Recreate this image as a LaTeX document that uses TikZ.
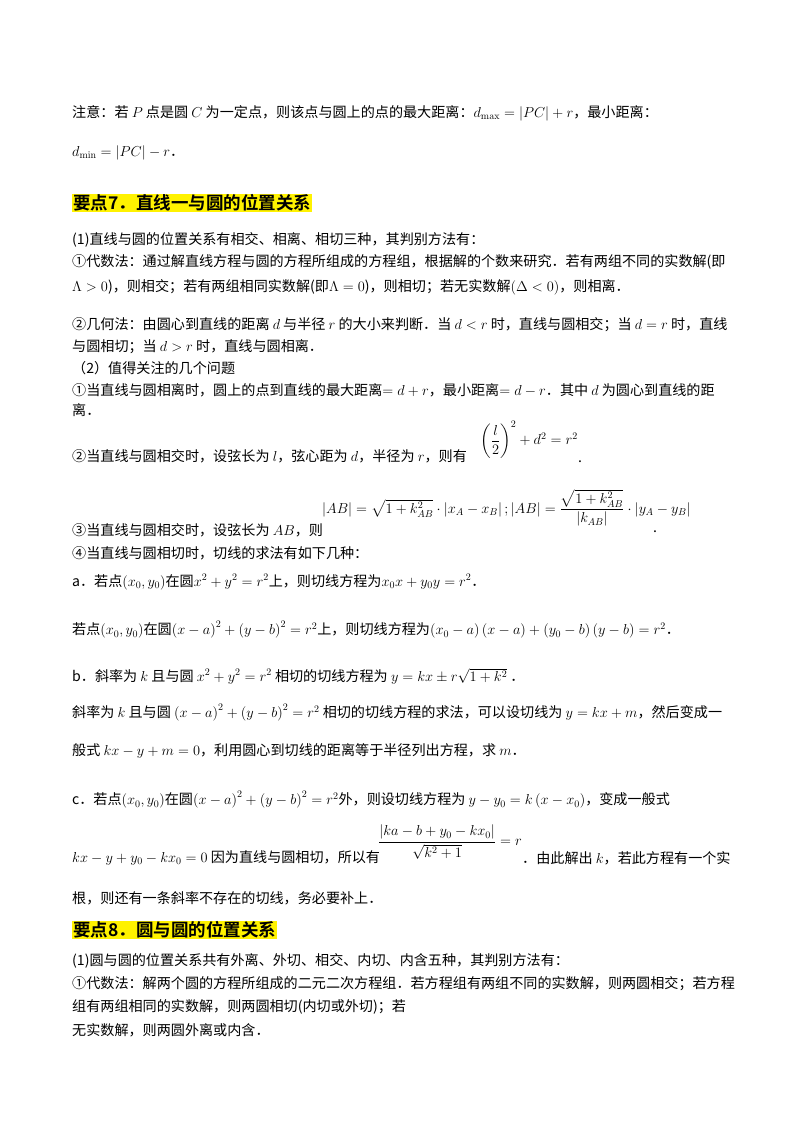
\documentclass[tikz,border=0pt]{standalone}
\usepackage[no-math]{fontspec}
\usepackage{amsmath}
\setmainfont{Noto Sans CJK SC}
\newfontfamily\hd{Noto Sans CJK SC Bold}
\begin{document}
\begin{tikzpicture}[x=1pt,y=-1pt,
  ln/.style={anchor=west,inner sep=0pt,font=\fontsize{14.1}{16}\selectfont},
  hdbox/.style={anchor=west,inner sep=1pt,fill=yellow,font=\fontsize{17.5}{20}\hd}]
\useasboundingbox (0,0) rectangle (800,1132);
\node[ln] (l1) at (72,113) {注意：若 $P$ 点是圆 $C$ 为一定点，则该点与圆上的点的最大距离：$d_{\max}=\left|PC\right|+r$，最小距离：};
\node[ln] (l2) at (72,153) {$d_{\min}=\left|PC\right|-r$．};
\node[hdbox] (h7) at (72,203) {要点7．直线一与圆的位置关系};
\node[ln] (l3) at (72,240) {(1)直线与圆的位置关系有相交、相离、相切三种，其判别方法有：};
\node[ln] (l4) at (72,262) {①代数法：通过解直线方程与圆的方程所组成的方程组，根据解的个数来研究．若有两组不同的实数解(即};
\node[ln] (l5) at (72,287) {$\Lambda>0$)，则相交；若有两组相同实数解(即$\Lambda=0$)，则相切；若无实数解$\left(\Delta<0\right)$，则相离．};
\node[ln] (l6) at (72,325) {②几何法：由圆心到直线的距离 $d$ 与半径 $r$ 的大小来判断．当 $d<r$ 时，直线与圆相交；当 $d=r$ 时，直线};
\node[ln] (l7) at (72,347) {与圆相切；当 $d>r$ 时，直线与圆相离．};
\node[ln] (l8) at (72,368) {（2）值得关注的几个问题};
\node[ln] (l9) at (72,390) {①当直线与圆相离时，圆上的点到直线的最大距离$=d+r$，最小距离$=d-r$．其中 $d$ 为圆心到直线的距};
\node[ln] (l10) at (72,410) {离．};
\node[ln] (l11) at (72,456) {②当直线与圆相交时，设弦长为 $l$，弦心距为 $d$，半径为 $r$，则有};
\node[ln] (f11) at (480,440) {$\left(\dfrac{l}{2}\right)^{2}+d^{2}=r^{2}$};
\node[ln] (d11) at (578,462) {.};
\node[ln] (f12) at (322,508) {$\left|AB\right|=\sqrt{1+k_{AB}^{2}}\cdot\left|x_A-x_B\right|;\left|AB\right|=\dfrac{\sqrt{1+k_{AB}^{2}}}{\left|k_{AB}\right|}\cdot\left|y_A-y_B\right|$};
\node[ln] (l12) at (72,530) {③当直线与圆相交时，设弦长为 $AB$，则};
\node[ln] (d12) at (653,532) {.};
\node[ln] (l13) at (72,553) {④当直线与圆相切时，切线的求法有如下几种：};
\node[ln] (l14) at (72,582) {a．若点$\left(x_0,y_0\right)$在圆$x^2+y^2=r^2$上，则切线方程为$x_0x+y_0y=r^2$．};
\node[ln] (l15) at (72,630) {若点$\left(x_0,y_0\right)$在圆$\left(x-a\right)^2+\left(y-b\right)^2=r^2$上，则切线方程为$\left(x_0-a\right)\left(x-a\right)+\left(y_0-b\right)\left(y-b\right)=r^2$．};
\node[ln] (l16) at (72,676) {b．斜率为 $k$ 且与圆 $x^2+y^2=r^2$ 相切的切线方程为 $y=kx\pm r\sqrt{1+k^2}$ ．};
\node[ln] (l17) at (72,713) {斜率为 $k$ 且与圆 $\left(x-a\right)^2+\left(y-b\right)^2=r^2$ 相切的切线方程的求法，可以设切线为 $y=kx+m$，然后变成一};
\node[ln] (l18) at (72,751) {般式 $kx-y+m=0$，利用圆心到切线的距离等于半径列出方程，求 $m$．};
\node[ln] (l19) at (72,800) {c．若点$\left(x_0,y_0\right)$在圆$\left(x-a\right)^2+\left(y-b\right)^2=r^2$外，则设切线方程为 $y-y_0=k\left(x-x_0\right)$，变成一般式};
\node[ln] (l20) at (72,858) {$kx-y+y_0-kx_0=0$ 因为直线与圆相切，所以有};
\node[ln] (f20) at (378,842) {$\dfrac{\left|ka-b+y_0-kx_0\right|}{\sqrt{k^2+1}}=r$};
\node[ln] (l20b) at (522,858) {．由此解出 $k$，若此方程有一个实};
\node[ln] (l21) at (72,898) {根，则还有一条斜率不存在的切线，务必要补上．};
\node[hdbox] (h8) at (72,930) {要点8．圆与圆的位置关系};
\node[ln] (l22) at (72,961) {(1)圆与圆的位置关系共有外离、外切、相交、内切、内含五种，其判别方法有：};
\node[ln] (l23) at (72,984) {①代数法：解两个圆的方程所组成的二元二次方程组．若方程组有两组不同的实数解，则两圆相交；若方程};
\node[ln] (l24) at (72,1007) {组有两组相同的实数解，则两圆相切(内切或外切)；若};
\node[ln] (l25) at (72,1030) {无实数解，则两圆外离或内含．};
\end{tikzpicture}
\end{document}
